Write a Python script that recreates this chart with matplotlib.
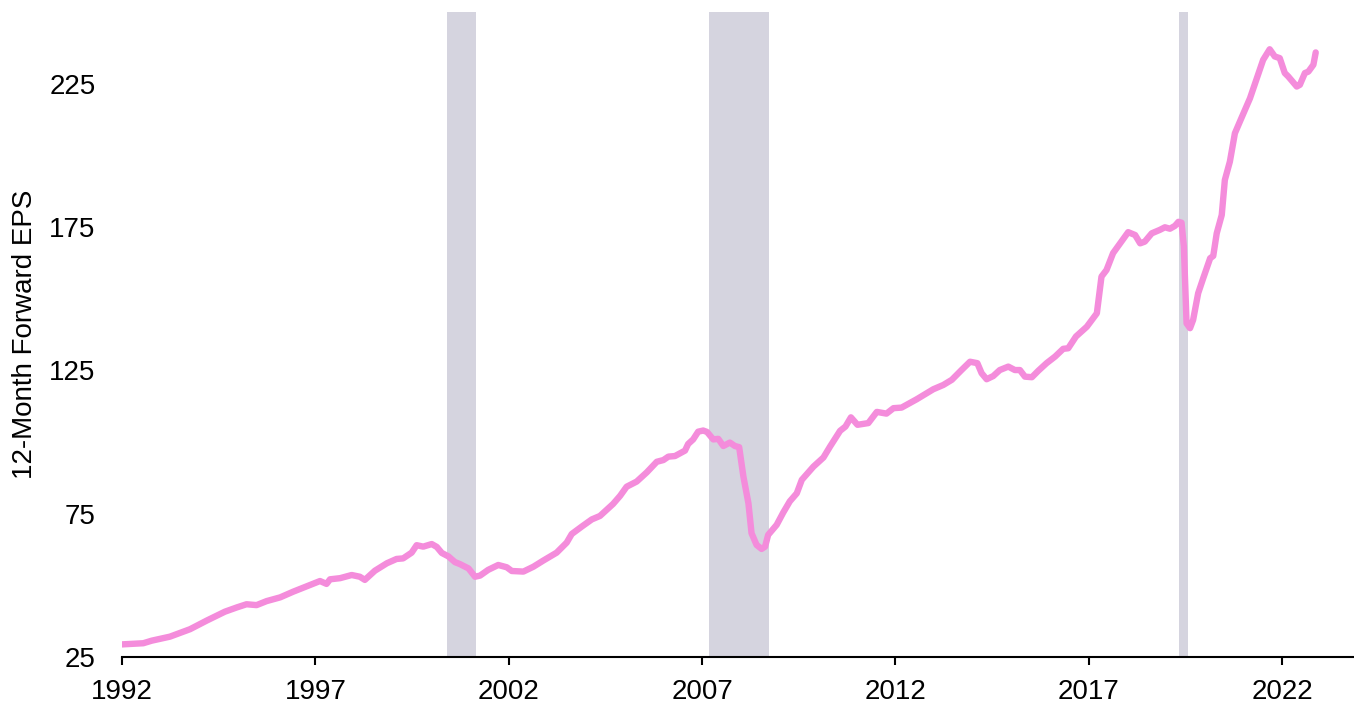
import matplotlib
matplotlib.use("Agg")
import matplotlib.pyplot as plt

# 12-month forward EPS (x in fractional years as displayed)
years = [1992.00, 1992.55, 1992.77, 1993.24, 1993.76, 1994.19, 1994.66, 1994.97, 1995.22, 1995.48,
         1995.74, 1996.09, 1996.43, 1996.86, 1997.12, 1997.29, 1997.38, 1997.64, 1997.94, 1998.15,
         1998.28, 1998.54, 1998.85, 1999.10, 1999.27, 1999.49, 1999.62, 1999.79, 2000.01, 2000.14,
         2000.27, 2000.44, 2000.61, 2000.74, 2000.96, 2001.13, 2001.26, 2001.47, 2001.73, 2001.95,
         2002.08, 2002.38, 2002.64, 2002.89, 2003.24, 2003.50, 2003.63, 2003.89, 2004.15, 2004.36,
         2004.70, 2004.88, 2005.05, 2005.31, 2005.57, 2005.83, 2006.00, 2006.13, 2006.30, 2006.56,
         2006.64, 2006.77, 2006.90, 2007.03, 2007.13, 2007.29, 2007.42, 2007.55, 2007.72, 2007.85,
         2007.96, 2008.07, 2008.20, 2008.28, 2008.41, 2008.54, 2008.63, 2008.71, 2008.93, 2009.10,
         2009.27, 2009.45, 2009.58, 2009.88, 2010.14, 2010.31, 2010.57, 2010.71, 2010.85, 2011.02,
         2011.30, 2011.52, 2011.77, 2011.95, 2012.16, 2012.55, 2012.98, 2013.24, 2013.46, 2013.71,
         2013.93, 2014.12, 2014.23, 2014.36, 2014.53, 2014.70, 2014.92, 2015.09, 2015.22, 2015.35,
         2015.53, 2015.70, 2015.91, 2016.13, 2016.34, 2016.47, 2016.67, 2016.95, 2017.21, 2017.33,
         2017.46, 2017.63, 2017.81, 2018.02, 2018.20, 2018.33, 2018.45, 2018.63, 2018.84, 2018.97,
         2019.10, 2019.23, 2019.32, 2019.40, 2019.46, 2019.53, 2019.62, 2019.70, 2019.83, 2019.96,
         2020.14, 2020.22, 2020.31, 2020.44, 2020.52, 2020.65, 2020.78, 2020.91, 2021.17, 2021.51,
         2021.68, 2021.81, 2021.94, 2022.07, 2022.16, 2022.38, 2022.46, 2022.59, 2022.68, 2022.81,
         2022.87]
eps = [29.4, 29.8, 30.7, 32.1, 34.7, 37.7, 40.8, 42.3, 43.4, 43.1,
       44.5, 45.8, 47.8, 50.1, 51.5, 50.5, 52.1, 52.5, 53.6, 53.0,
       51.9, 55.1, 57.7, 59.2, 59.4, 61.4, 64.0, 63.5, 64.4, 63.4,
       61.3, 60.1, 58.1, 57.4, 55.9, 53.0, 53.4, 55.4, 57.1, 56.3,
       55.0, 54.8, 56.5, 58.6, 61.4, 64.9, 67.9, 70.5, 73.0, 74.2,
       78.4, 81.2, 84.4, 86.2, 89.4, 93.1, 93.7, 94.9, 95.1, 97.0,
       99.3, 100.9, 103.6, 104.0, 103.5, 100.9, 101.1, 98.6, 99.8, 98.6,
       98.2, 87.9, 78.6, 68.2, 64.1, 62.7, 63.5, 67.6, 71.1, 75.4,
       79.3, 82.1, 86.8, 91.4, 94.6, 98.4, 103.9, 105.4, 108.6, 106.0,
       106.6, 110.5, 109.9, 111.8, 112.0, 114.9, 118.4, 119.9, 121.7, 125.1,
       128.0, 127.5, 124.0, 121.9, 123.0, 125.1, 126.3, 125.1, 125.1, 122.8,
       122.6, 124.9, 127.5, 129.8, 132.5, 132.7, 136.8, 140.2, 144.9, 157.7,
       160.0, 165.9, 169.3, 173.2, 172.2, 169.3, 169.9, 172.8, 174.0, 174.9,
       174.4, 175.4, 176.8, 176.5, 168.2, 141.4, 139.7, 142.6, 151.9, 157.1,
       164.1, 164.9, 172.8, 179.2, 191.4, 197.8, 207.7, 211.8, 219.9, 233.3,
       237.0, 234.5, 233.9, 228.7, 227.5, 224.0, 224.6, 228.7, 229.2, 231.6,
       235.9]

# Shaded recession periods (start, end) as displayed
recession_start = [2000.40, 2007.18, 2019.33]
recession_end = [2001.15, 2008.73, 2019.57]

xticks = [1992, 1997, 2002, 2007, 2012, 2017, 2022]
yticks = [25, 75, 125, 175, 225]
ylabel = "12-Month Forward EPS"

plt.rcParams['font.family'] = ['Liberation Sans', 'DejaVu Sans']

fig = plt.figure(figsize=(13.54, 7.04), dpi=100)
ax = fig.add_axes([122 / 1354, 47 / 704, 1 - 122 / 1354, 645 / 704])

for s, e in zip(recession_start, recession_end):
    ax.axvspan(s, e, color='#d5d4df', lw=0, zorder=1)

ax.plot(years, eps, color='#f48cdb', lw=4.6, solid_joinstyle='round',
        solid_capstyle='round', zorder=3)

ax.set_xlim(1992, 2023.86)
ax.set_ylim(25, 250)
ax.set_xticks(xticks)
ax.set_xticklabels([str(t) for t in xticks])
ax.set_yticks(yticks)
ax.set_yticklabels([str(t) for t in yticks])

for side in ['left', 'right', 'top']:
    ax.spines[side].set_visible(False)
ax.spines['bottom'].set_linewidth(1.5)
ax.spines['bottom'].set_color('black')
ax.spines['bottom'].set_zorder(4)

ax.tick_params(axis='x', length=6, width=1.5, pad=10, labelsize=20, colors='black')
ax.tick_params(axis='y', length=0, pad=19, labelsize=20, colors='black')
ax.set_ylabel(ylabel, fontsize=20)
ax.yaxis.set_label_coords(-84 / 1232, 0.5)

fig.savefig("out.png", dpi=100)
